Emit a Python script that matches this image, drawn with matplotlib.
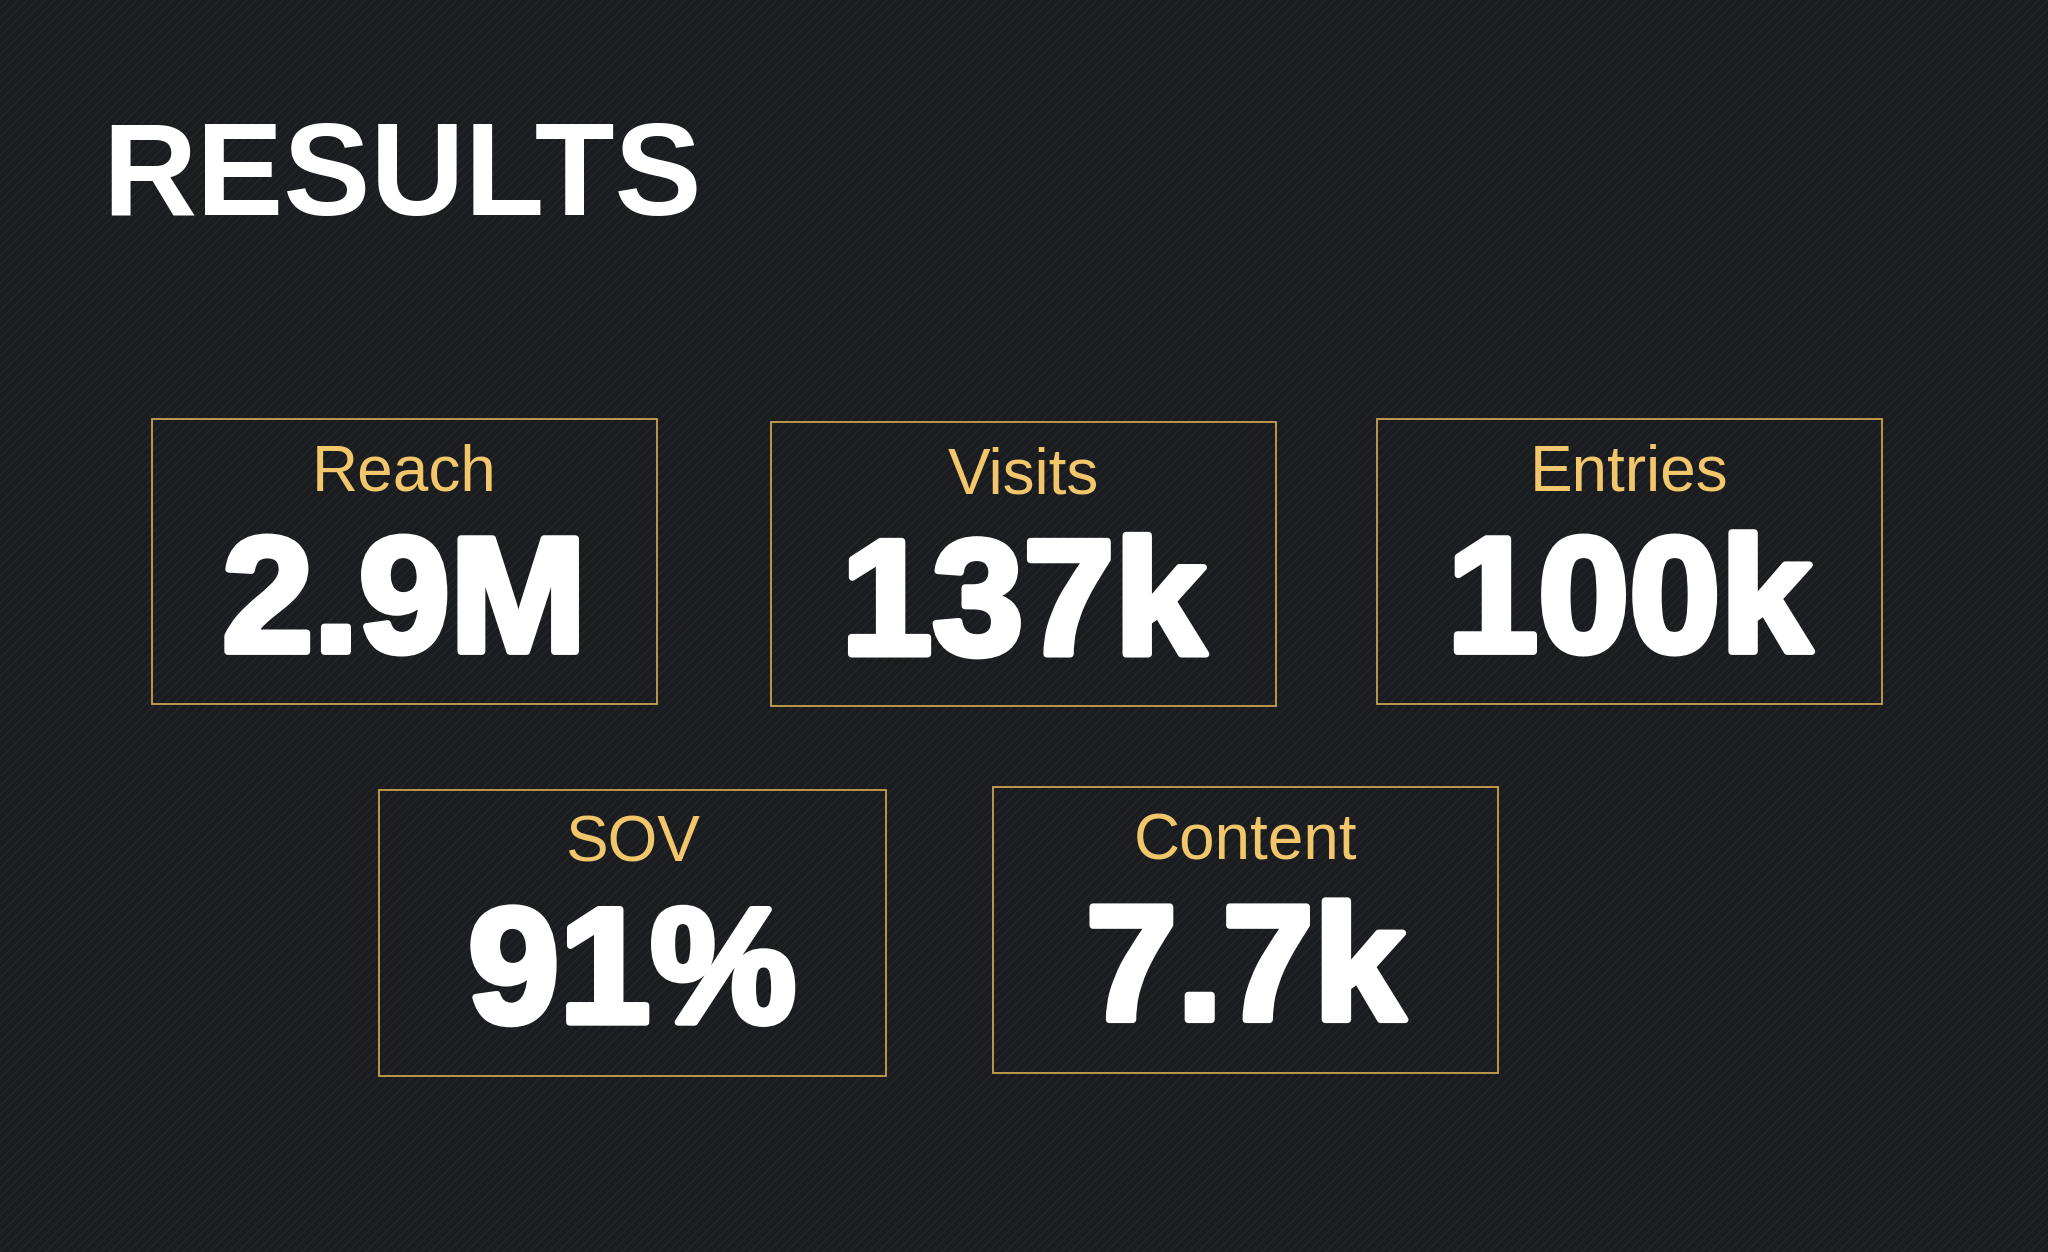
import matplotlib.pyplot as plt
from matplotlib.patches import Rectangle
import matplotlib.patheffects as pe
import numpy as np

labels = ["Reach", "Visits", "Entries", "SOV", "Content"]
values = ["2.9M", "137k", "100k", "91%", "7.7k"]
# box corners in reference pixels (x0, y0, x1, y1), 1568x959 view
boxes = [(116, 321, 503, 539), (590, 323, 977, 541), (1054, 321, 1441, 539),
         (290, 605, 678, 824), (760, 603, 1147, 822)]

W, H = 1568, 959
gold = "#f2c66a"

fig = plt.figure(figsize=(20.48, 12.52), dpi=100)
fig.patch.set_facecolor("#1a1c1f")
ax = fig.add_axes([0, 0, 1, 1])
ax.set_xlim(0, W)
ax.set_ylim(H, 0)
ax.axis("off")
ax.set_facecolor("#1a1c1f")

# diagonal stripe texture
for c in np.arange(-H, W + H, 7):
    ax.plot([c, c + H], [H, 0], color="#2c2f33", lw=0.9, alpha=0.6, zorder=0)

ax.text(78, 165, "RESULTS", color="white", fontsize=94, fontweight="bold",
        family="Liberation Sans", va="baseline", ha="left")

for lab, val, (x0, y0, x1, y1) in zip(labels, values, boxes):
    ax.add_patch(Rectangle((x0, y0), x1 - x0, y1 - y0, fill=False,
                           edgecolor="#c9a24e", lw=1.3, zorder=2))
    cx = (x0 + x1) / 2
    ax.text(cx, y0 + 55, lab, color=gold, fontsize=46, family="Liberation Sans",
            ha="center", va="baseline")
    ax.text(cx, y0 + 178, val, color="white", fontsize=118, fontweight="bold",
            family="Liberation Sans", ha="center", va="baseline",
            path_effects=[pe.withStroke(linewidth=5, foreground="white")])

fig.savefig("out.png", dpi=100, facecolor=fig.get_facecolor())
